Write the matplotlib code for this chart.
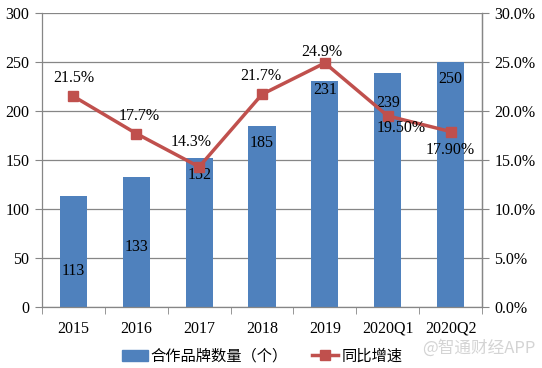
import matplotlib
matplotlib.use("Agg")
import matplotlib.pyplot as plt
from matplotlib.lines import Line2D
from matplotlib.patches import Patch
import numpy as np

categories = ["2015", "2016", "2017", "2018", "2019", "2020Q1", "2020Q2"]
brands = [113, 133, 152, 185, 231, 239, 250]
growth = [21.5, 17.7, 14.3, 21.7, 24.9, 19.5, 17.9]
growth_labels = ["21.5%", "17.7%", "14.3%", "21.7%", "24.9%", "19.50%", "17.90%"]
left_ticks = [0, 50, 100, 150, 200, 250, 300]
right_ticks = [0, 5, 10, 15, 20, 25, 30]

# label anchor positions (data units) as placed in the original
bar_label_y = [37, 61, 135, 167, 221, 208, 233]
pct_label_dx = [0.0, 0.05, -0.12, -0.02, -0.05, 0.22, 0.0]
pct_label_y = [23.4, 19.5, 16.8, 23.6, 26.0, 18.3, 16.0]

BLUE = "#4F81BD"
RED = "#C0504D"
GRID = "#868686"
serif = ["Liberation Serif", "DejaVu Serif"]
cjk = ["Noto Sans CJK SC", "DejaVu Sans"]

fig = plt.figure(figsize=(5.42, 3.68), dpi=100)
ax = fig.add_axes([42/542, 1-307/368, 440/542, 294/368])
x = np.arange(len(categories))
ax.bar(x, brands, width=0.43, color=BLUE, zorder=2)
ax.set_ylim(0, 300)
ax.set_xlim(-0.5, len(categories)-0.5)
ax.set_yticks(left_ticks)
ax.set_yticklabels([str(t) for t in left_ticks], fontfamily=serif, fontsize=11.5)
ax.yaxis.grid(True, color=GRID, linewidth=0.9, zorder=0)
ax.set_axisbelow(True)
ax.set_xticks(x)
ax.set_xticklabels(categories, fontfamily=serif, fontsize=11.5)
ax.set_xticks(np.arange(-0.5, len(categories)), minor=True)
ax.tick_params(axis="x", which="major", length=0, pad=10)
ax.tick_params(axis="x", which="minor", length=5, color=GRID, direction="out")
ax.tick_params(axis="y", length=5, color=GRID, direction="out", pad=4)
ax.spines["top"].set_visible(False)
for s in ["left", "bottom", "right"]:
    ax.spines[s].set_color(GRID)
    ax.spines[s].set_linewidth(0.9)

for xi, v, ly in zip(x, brands, bar_label_y):
    ax.text(xi, ly, str(v), ha="center", va="center", fontfamily=serif,
            fontsize=11.5, color="black", zorder=5)

ax2 = ax.twinx()
ax2.set_position(ax.get_position())
ax2.plot(x, growth, color=RED, linewidth=2.5, marker="s", markersize=6.5,
         markerfacecolor=RED, markeredgecolor=RED, zorder=4)
ax2.set_ylim(0, 30)
ax2.set_yticks(right_ticks)
ax2.set_yticklabels([f"{t:.1f}%" for t in right_ticks], fontfamily=serif, fontsize=11.5)
ax2.tick_params(axis="y", length=5, color=GRID, direction="out", pad=4)
for s in ["top", "left", "bottom"]:
    ax2.spines[s].set_visible(False)
ax2.spines["right"].set_color(GRID)
ax2.spines["right"].set_linewidth(0.9)

for xi, dx, ly, lab in zip(x, pct_label_dx, pct_label_y, growth_labels):
    ax2.text(xi + dx, ly, lab, ha="center", va="center", fontfamily=serif,
             fontsize=11.5, color="black", zorder=6)

handles = [Patch(facecolor=BLUE, edgecolor=BLUE),
           Line2D([0], [0], color=RED, linewidth=2.5, marker="s", markersize=6.5)]
fig.legend(handles, ["合作品牌数量（个）", "同比增速"], loc="center",
           bbox_to_anchor=(262/542, 1-356/368), ncol=2, frameon=False,
           prop={"family": cjk, "size": 11}, handlelength=1.7,
           handletextpad=0.2, columnspacing=1.6)

fig.text(479/542, 1-348/368, "@智通财经APP", ha="center", va="center",
         fontfamily=cjk, fontsize=12, color="#D4D4D4")

fig.savefig("out.png", dpi=100)
